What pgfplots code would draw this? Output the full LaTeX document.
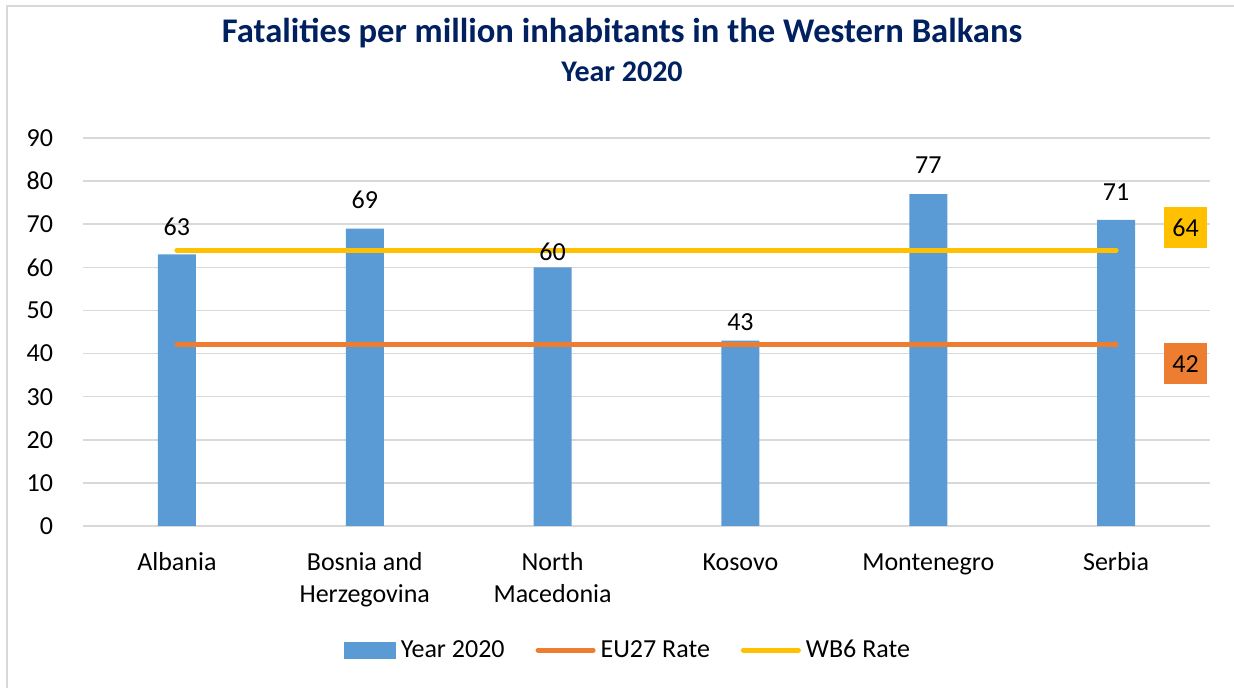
\documentclass[border=0pt]{standalone}
\usepackage{fontspec}
\setmainfont{Carlito}
\usepackage{pgfplots}
\usepackage{pgfplotstable}
\pgfplotsset{compat=1.18}
\definecolor{barBlue}{RGB}{91,155,213}
\definecolor{euOrange}{RGB}{237,125,49}
\definecolor{wbYellow}{RGB}{255,192,0}
\definecolor{gridGray}{RGB}{217,217,217}
\definecolor{titleNavy}{RGB}{0,32,96}
\newcommand{\chartfont}{\fontsize{13}{16}\selectfont}

% x = category index, y = fatalities per million, off = label lift (pt)
\pgfplotstableread{
x y off
0 63 5.75
1 69 6.5
2 60 -0.25
3 43 1.5
4 77 6.5
5 71 6.25
}\fatalities

\begin{document}
\begin{tikzpicture}
\begin{axis}[
  at={(41.5pt,81pt)}, anchor=south west,
  scale only axis, width=563.5pt, height=194pt,
  xmin=-0.5, xmax=5.5, ymin=0, ymax=90,
  xtick={0,...,5},
  xticklabels={\strut Albania, {\strut Bosnia and\\Herzegovina}, {\strut North\\Macedonia},
    \strut Kosovo, \strut Montenegro, \strut Serbia},
  xticklabel style={align=center, font=\chartfont, yshift=-7.5pt},
  ytick={0,10,...,90},
  yticklabel style={font=\chartfont, xshift=-11.5pt},
  /pgf/number format/assume math mode=true,
  ymajorgrids, grid style={gridGray, line width=0.8pt},
  axis line style={draw=none}, tick style={draw=none}, major tick length=0pt,
  clip=false,
  legend columns=-1,
  legend style={draw=none, font=\chartfont, at={(0.483,-0.32)}, anchor=center,
    cells={anchor=west}, inner sep=1pt, nodes={inner sep=0.5pt},
    /tikz/every odd column/.append style={column sep=2pt},
    /tikz/every even column/.append style={column sep=15pt}},
]
% bars
\addplot[ybar, bar width=19pt, bar shift=0pt, fill=barBlue, draw=none,
  legend image code/.code={\fill[barBlue] (0pt,-4.25pt) rectangle (26pt,4.25pt);}]
  table[x=x, y=y] {\fatalities};
\addlegendentry{Year 2020}
% EU27 rate
\addplot[euOrange, line width=2.5pt, line cap=round, mark=none,
  legend image code/.code={\draw[euOrange, line width=2.5pt, line cap=round] (0pt,0pt) -- (27.5pt,0pt);}]
  coordinates {(0,42) (1,42) (2,42) (3,42) (4,42) (5,42)};
\addlegendentry{EU27 Rate}
% WB6 rate
\addplot[wbYellow, line width=2.5pt, line cap=round, mark=none,
  legend image code/.code={\draw[wbYellow, line width=2.5pt, line cap=round] (0pt,0pt) -- (27.5pt,0pt);}]
  coordinates {(0,64) (1,64) (2,64) (3,64) (4,64) (5,64)};
\addlegendentry{WB6 Rate}
% value labels, on top of the lines
\addplot[draw=none, mark=none, forget plot,
  visualization depends on={\thisrow{off} \as \labeloff},
  nodes near coords,
  every node near coord/.append style={font=\chartfont, text=black, yshift=\labeloff pt}]
  table[x=x, y=y] {\fatalities};
% end labels
\node[fill=wbYellow, minimum width=21.5pt, minimum height=20.5pt, inner sep=0pt, font=\chartfont]
  at (axis cs:5.37,69.2) {64};
\node[fill=euOrange, minimum width=21.5pt, minimum height=20.5pt, inner sep=0pt, font=\chartfont]
  at (axis cs:5.37,37.6) {42};
\end{axis}
\pgfresetboundingbox
\useasboundingbox (0,0) rectangle (617pt,344pt);
\draw[gridGray, line width=1pt] (3.5pt,-5pt) -- (3.5pt,341pt) -- (625pt,341pt);
\node[font=\bfseries\fontsize{17.3}{20}\selectfont, text=titleNavy] at (311pt,327.5pt)
  {Fatalities per million inhabitants in the Western Balkans};
\node[font=\bfseries\fontsize{15}{18}\selectfont, text=titleNavy] at (311pt,308pt)
  {Year 2020};
\end{tikzpicture}
\end{document}
